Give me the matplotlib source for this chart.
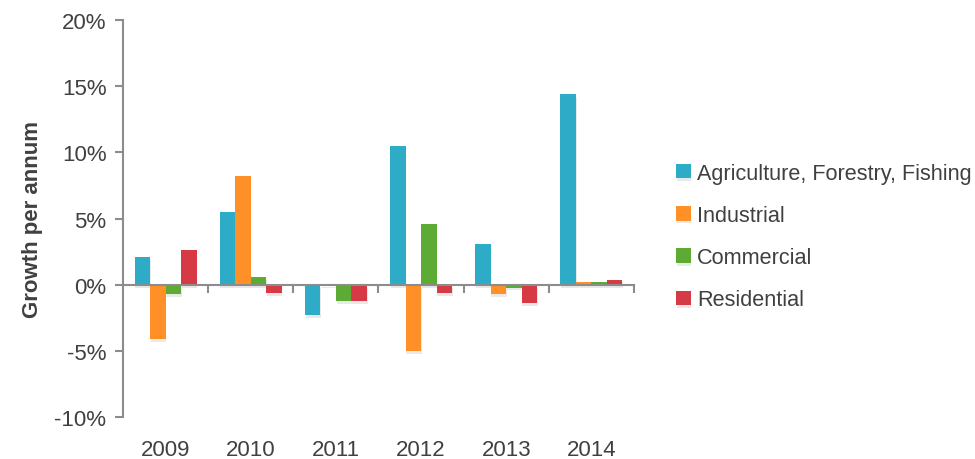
import numpy as np
import matplotlib
matplotlib.use("Agg")
import matplotlib.pyplot as plt
import matplotlib.patheffects as pe
from matplotlib.transforms import blended_transform_factory

# ==================== DATA ====================
years = ["2009", "2010", "2011", "2012", "2013", "2014"]
agriculture = [2.1, 5.5, -2.3, 10.5, 3.1, 14.4]
industrial = [-4.1, 8.2, 0.05, -5.0, -0.7, 0.25]
commercial = [-0.7, 0.6, -1.25, 4.6, -0.2, 0.25]
residential = [2.6, -0.6, -1.25, -0.6, -1.4, 0.4]

series_names = ["Agriculture, Forestry, Fishing", "Industrial", "Commercial", "Residential"]
colors = ["#2EABC6", "#FF9027", "#5BAB34", "#D63A45"]

TEXT_COLOR = "#404040"
AXIS_COLOR = "#8C8C8C"
FS = 16

plt.rcParams['font.family'] = ['Liberation Sans', 'DejaVu Sans']

fig = plt.figure(figsize=(9.75, 4.6), dpi=100)
ax = fig.add_axes([0.1262, 0.0906, 0.5240, 0.8637])

x = np.arange(len(years))
bar_w = 0.182
offsets = [-1.5, -0.5, 0.5, 1.5]
all_series = [agriculture, industrial, commercial, residential]

# soft drop shadow under bars, like the original
shadow = [pe.SimplePatchShadow(offset=(0.5, -2), alpha=0.1), pe.Normal()]
for vals, name, col, off in zip(all_series, series_names, colors, offsets):
    bars = ax.bar(x + off * bar_w, vals, width=bar_w, color=col, label=name, zorder=2)
    for b in bars:
        b.set_path_effects(shadow)

# axes limits / ticks
ax.set_xlim(-0.5, len(years) - 0.5)
ax.set_ylim(-10, 20)
ax.set_yticks(np.arange(-10, 21, 5))
ax.set_yticklabels([f"{v}%" for v in range(-10, 21, 5)])

# category boundaries as ticks on the zero line
ax.set_xticks(np.arange(0.5, len(years) - 0.5 + 1, 1.0))
ax.set_xticklabels([])
ax.spines['bottom'].set_position(('data', 0))
ax.spines['bottom'].set_zorder(3)
for s in ['top', 'right']:
    ax.spines[s].set_visible(False)
for s in ['left', 'bottom']:
    ax.spines[s].set_color(AXIS_COLOR)
    ax.spines[s].set_linewidth(1.5)

ax.tick_params(axis='y', direction='out', length=6, width=1.5, color=AXIS_COLOR,
               labelsize=FS, labelcolor=TEXT_COLOR, pad=6)
ax.tick_params(axis='x', direction='out', length=6, width=1.5, color=AXIS_COLOR)

# year labels along the bottom
trans = blended_transform_factory(ax.transData, ax.transAxes)
for xi, yr in zip(x, years):
    ax.text(xi, -0.055, yr, transform=trans, ha='center', va='top',
            fontsize=FS, color=TEXT_COLOR)

ax.set_ylabel("Growth per annum", fontsize=16, fontweight='bold', color=TEXT_COLOR, labelpad=8)

leg = ax.legend(loc='center left', bbox_to_anchor=(1.045, 0.455), frameon=False,
                fontsize=15.6, handlelength=0.65, handleheight=0.65, handletextpad=0.3,
                labelspacing=0.98, labelcolor=TEXT_COLOR)

fig.savefig("out.png", dpi=100)
